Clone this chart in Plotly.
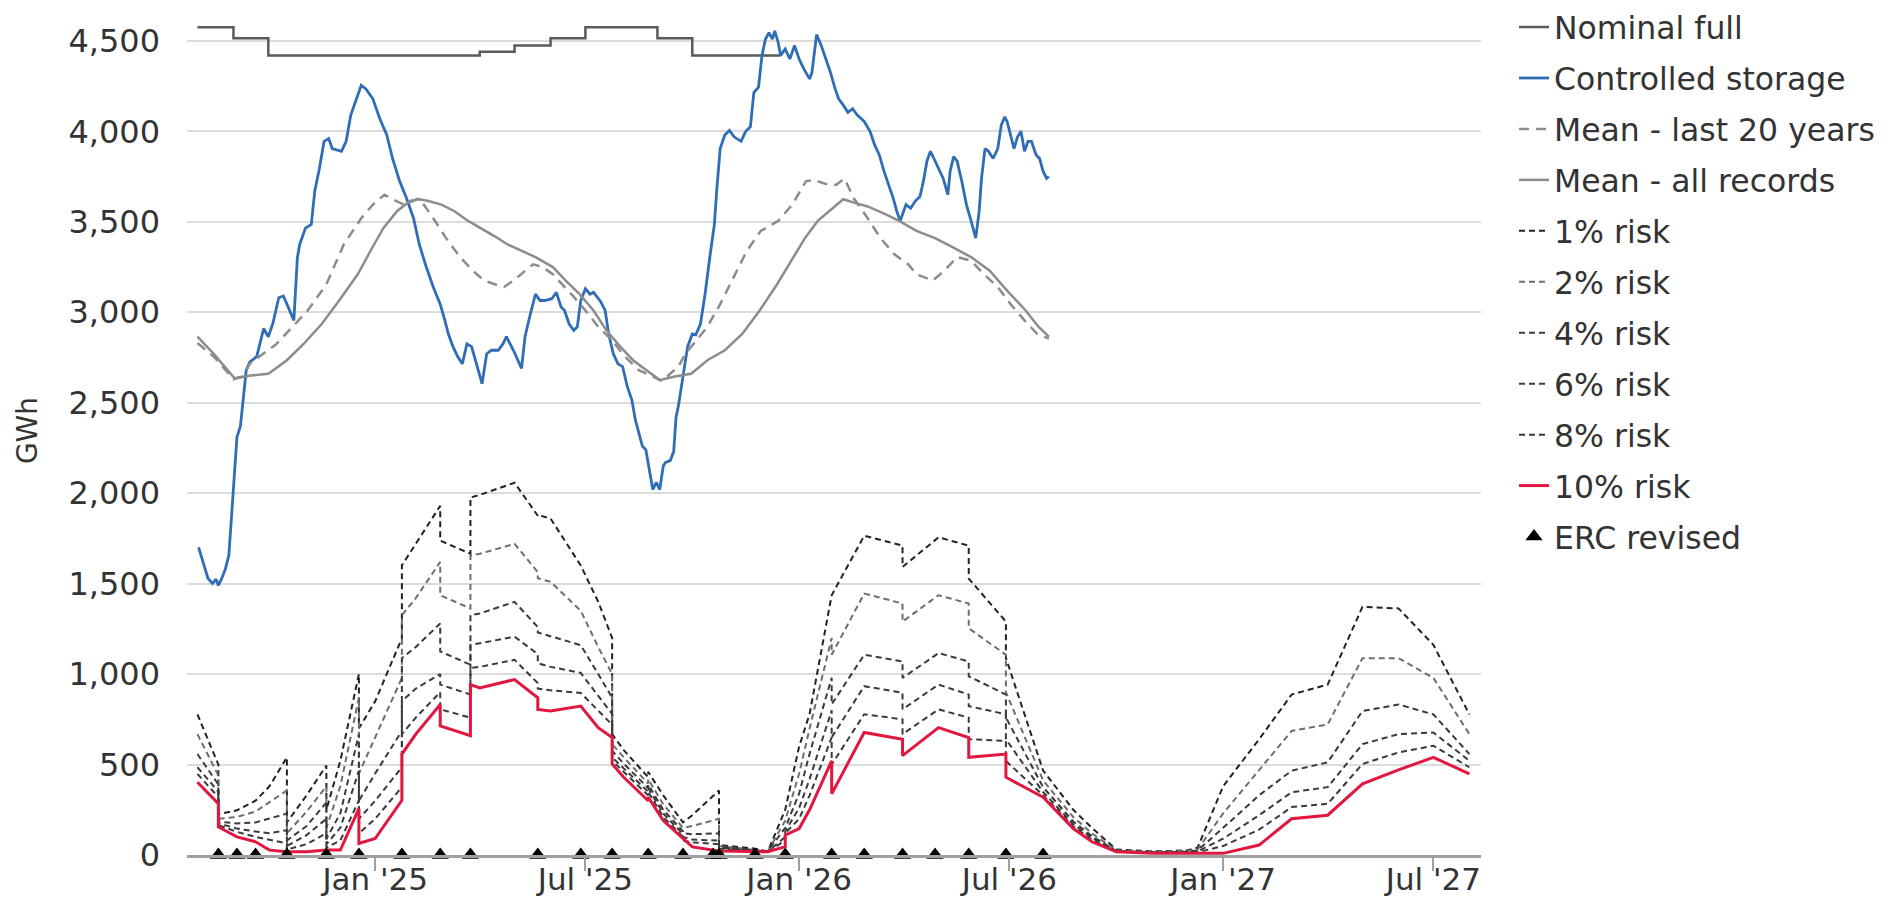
import plotly.graph_objects as go

# ---- data (GWh) ----

nominal_dates = ["2024-08-01", "2024-09-01", "2024-10-01", "2025-04-01", "2025-05-01",
                 "2025-06-01", "2025-07-01", "2025-09-01", "2025-10-01", "2025-12-16"]
nominal_gwh = [4575, 4515, 4420, 4440, 4475, 4515, 4575, 4515, 4420, 4420]

storage_dates = [
    "2024-08-02", "2024-08-06", "2024-08-10", "2024-08-14", "2024-08-17", "2024-08-19",
    "2024-08-22", "2024-08-25", "2024-08-28", "2024-08-30", "2024-09-02", "2024-09-04",
    "2024-09-07", "2024-09-10", "2024-09-12", "2024-09-15", "2024-09-21", "2024-09-27",
    "2024-10-01", "2024-10-05", "2024-10-10", "2024-10-14", "2024-10-19", "2024-10-23",
    "2024-10-26", "2024-10-28", "2024-11-02", "2024-11-07", "2024-11-10", "2024-11-14",
    "2024-11-18", "2024-11-22", "2024-11-25", "2024-12-03", "2024-12-07", "2024-12-11",
    "2024-12-17", "2024-12-20", "2024-12-24", "2024-12-30", "2025-01-05", "2025-01-11",
    "2025-01-16", "2025-01-22", "2025-01-28", "2025-02-03", "2025-02-08", "2025-02-14",
    "2025-02-20", "2025-02-26", "2025-03-02", "2025-03-05", "2025-03-09", "2025-03-13",
    "2025-03-17", "2025-03-21", "2025-03-25", "2025-03-29", "2025-04-03", "2025-04-07",
    "2025-04-11", "2025-04-17", "2025-04-21", "2025-04-24", "2025-04-30", "2025-05-07",
    "2025-05-10", "2025-05-14", "2025-05-19", "2025-05-23", "2025-05-27", "2025-06-02",
    "2025-06-06", "2025-06-10", "2025-06-13", "2025-06-17", "2025-06-21", "2025-06-24",
    "2025-06-27", "2025-07-01", "2025-07-05", "2025-07-08", "2025-07-14", "2025-07-18",
    "2025-07-21", "2025-07-25", "2025-07-29", "2025-08-02", "2025-08-06", "2025-08-10",
    "2025-08-13", "2025-08-19", "2025-08-22", "2025-08-28", "2025-08-31", "2025-09-03",
    "2025-09-06", "2025-09-08", "2025-09-12", "2025-09-15", "2025-09-17", "2025-09-19",
    "2025-09-23", "2025-09-27", "2025-10-01", "2025-10-04", "2025-10-08", "2025-10-12",
    "2025-10-16", "2025-10-20", "2025-10-22", "2025-10-25", "2025-10-29", "2025-11-02",
    "2025-11-06", "2025-11-12", "2025-11-16", "2025-11-20", "2025-11-23", "2025-11-27",
    "2025-11-30", "2025-12-03", "2025-12-06", "2025-12-09", "2025-12-11", "2025-12-14",
    "2025-12-16", "2025-12-20", "2025-12-24", "2025-12-28", "2026-01-01", "2026-01-05",
    "2026-01-10", "2026-01-12", "2026-01-16", "2026-01-20", "2026-01-24", "2026-01-28",
    "2026-02-01", "2026-02-04", "2026-02-08", "2026-02-12", "2026-02-16", "2026-02-20",
    "2026-02-26", "2026-03-03", "2026-03-07", "2026-03-11", "2026-03-15", "2026-03-19",
    "2026-03-23", "2026-03-26", "2026-03-29", "2026-04-01", "2026-04-03", "2026-04-07",
    "2026-04-11", "2026-04-15", "2026-04-18", "2026-04-21", "2026-04-24", "2026-04-27",
    "2026-05-01", "2026-05-05", "2026-05-09", "2026-05-11", "2026-05-14", "2026-05-17",
    "2026-05-21", "2026-05-25", "2026-05-29", "2026-06-02", "2026-06-05", "2026-06-07",
    "2026-06-10", "2026-06-13", "2026-06-17", "2026-06-21", "2026-06-24", "2026-06-27",
    "2026-06-29", "2026-07-02", "2026-07-05", "2026-07-08", "2026-07-11", "2026-07-14",
    "2026-07-17", "2026-07-20", "2026-07-24", "2026-07-27", "2026-07-30", "2026-08-02",
    "2026-08-04",
]
storage_gwh = [
    1700, 1620, 1530, 1500, 1525, 1490,
    1530, 1580, 1655, 1840, 2130, 2310,
    2370, 2570, 2680, 2725, 2755, 2910,
    2865, 2940, 3080, 3090, 3010, 2955,
    3300, 3375, 3465, 3485, 3670, 3795,
    3945, 3960, 3905, 3890, 3945, 4090,
    4200, 4255, 4235, 4180, 4070, 3980,
    3850, 3725, 3630, 3520, 3375, 3250,
    3140, 3045, 2955, 2880, 2810, 2755,
    2715, 2825, 2810, 2715, 2605, 2770,
    2790, 2790, 2825, 2865, 2790, 2690,
    2865, 2975, 3100, 3065, 3065, 3075,
    3110, 3030, 3010, 2935, 2900, 2920,
    3065, 3130, 3100, 3110, 3060, 3010,
    2880, 2770, 2715, 2700, 2590, 2515,
    2405, 2260, 2240, 2020, 2060, 2020,
    2150, 2170, 2180, 2230, 2420, 2480,
    2650, 2810, 2880, 2875, 2935, 3100,
    3300, 3485, 3670, 3905, 3980, 4005,
    3970, 3945, 4000, 4025, 4215, 4245,
    4420, 4510, 4545, 4510, 4555, 4490,
    4420, 4455, 4400, 4475, 4400, 4345,
    4290, 4325, 4535, 4475, 4400, 4325,
    4235, 4180, 4145, 4105, 4125, 4090,
    4055, 4000, 3925, 3870, 3780, 3705,
    3630, 3560, 3505, 3560, 3595, 3575,
    3615, 3640, 3725, 3835, 3890, 3850,
    3795, 3740, 3650, 3780, 3860, 3835,
    3725, 3595, 3505, 3410, 3560, 3740,
    3905, 3890, 3850, 3905, 4035, 4080,
    4055, 3980, 3905, 3970, 4000, 3890,
    3945, 3945, 3870, 3850, 3780, 3740,
    3750,
]

mean20_dates = [
    "2024-08-01", "2024-08-15", "2024-09-01", "2024-09-09", "2024-09-15", "2024-10-08",
    "2024-11-04", "2024-11-20", "2024-12-05", "2024-12-20", "2024-12-30", "2025-01-09",
    "2025-01-16", "2025-01-26", "2025-02-08", "2025-02-20", "2025-03-03", "2025-03-15",
    "2025-03-26", "2025-04-05", "2025-04-14", "2025-04-22", "2025-04-30", "2025-05-10",
    "2025-05-17", "2025-05-25", "2025-06-03", "2025-06-13", "2025-06-21", "2025-07-01",
    "2025-07-12", "2025-07-24", "2025-08-04", "2025-08-16", "2025-08-27", "2025-09-05",
    "2025-09-19", "2025-09-25", "2025-10-02", "2025-10-14", "2025-10-25", "2025-11-06",
    "2025-11-17", "2025-11-29", "2025-12-14", "2025-12-26", "2026-01-07", "2026-01-14",
    "2026-01-26", "2026-02-02", "2026-02-09", "2026-02-17", "2026-03-01", "2026-03-12",
    "2026-03-24", "2026-04-05", "2026-04-12", "2026-04-26", "2026-05-06", "2026-05-17",
    "2026-05-29", "2026-06-09", "2026-06-21", "2026-07-02", "2026-07-14", "2026-07-25",
    "2026-08-04",
]
mean20_gwh = [
    2830, 2755, 2630, 2645, 2715, 2825,
    3010, 3155, 3375, 3520, 3595, 3650,
    3625, 3595, 3630, 3520, 3410, 3305,
    3230, 3175, 3155, 3140, 3175, 3230,
    3265, 3250, 3210, 3140, 3085, 3010,
    2920, 2845, 2755, 2680, 2645, 2620,
    2700, 2770, 2825, 2920, 3045, 3195,
    3340, 3450, 3505, 3595, 3725, 3730,
    3705, 3705, 3740, 3630, 3520, 3410,
    3320, 3265, 3210, 3175, 3230, 3305,
    3285, 3210, 3140, 3045, 2955, 2880,
    2855,
]

mean_all_dates = [
    "2024-08-01", "2024-08-15", "2024-09-02", "2024-09-16", "2024-10-01", "2024-10-17",
    "2024-11-01", "2024-11-16", "2024-12-01", "2024-12-17", "2024-12-28", "2025-01-08",
    "2025-01-20", "2025-01-31", "2025-02-08", "2025-02-16", "2025-02-27", "2025-03-10",
    "2025-03-22", "2025-04-02", "2025-04-14", "2025-04-25", "2025-05-07", "2025-05-19",
    "2025-06-03", "2025-06-14", "2025-06-26", "2025-07-08", "2025-07-19", "2025-07-31",
    "2025-08-11", "2025-08-23", "2025-09-03", "2025-09-16", "2025-09-30", "2025-10-14",
    "2025-10-29", "2025-11-13", "2025-11-28", "2025-12-13", "2025-12-25", "2026-01-06",
    "2026-01-17", "2026-01-29", "2026-02-08", "2026-02-18", "2026-03-01", "2026-03-17",
    "2026-03-28", "2026-04-12", "2026-04-28", "2026-05-13", "2026-05-29", "2026-06-14",
    "2026-06-29", "2026-07-15", "2026-07-26", "2026-08-04",
]
mean_all_gwh = [
    2865, 2770, 2635, 2650, 2660, 2735,
    2830, 2935, 3065, 3210, 3340, 3465,
    3560, 3615, 3625, 3615, 3595, 3560,
    3505, 3465, 3420, 3375, 3340, 3305,
    3250, 3175, 3100, 3010, 2900, 2810,
    2735, 2680, 2625, 2645, 2660, 2735,
    2790, 2880, 3010, 3155, 3285, 3410,
    3505, 3570, 3625, 3605, 3585, 3540,
    3505, 3450, 3410, 3360, 3305, 3230,
    3120, 3010, 2920, 2865,
]

# risk curves: a date repeated twice marks the jump at an ERC revision
risk_dates = [
    "2024-08-01", "2024-08-19", "2024-08-19", "2024-09-04", "2024-09-20", "2024-10-02",
    "2024-10-17", "2024-10-17", "2024-11-03", "2024-11-20", "2024-11-20", "2024-12-02",
    "2024-12-18", "2024-12-18", "2025-01-01", "2025-01-24", "2025-01-24", "2025-02-05",
    "2025-02-26", "2025-02-26", "2025-03-24", "2025-03-24", "2025-04-01", "2025-05-01",
    "2025-05-21", "2025-05-21", "2025-06-01", "2025-06-27", "2025-07-12", "2025-07-24",
    "2025-07-24", "2025-08-03", "2025-08-24", "2025-08-24", "2025-09-06", "2025-09-23",
    "2025-09-23", "2025-10-01", "2025-10-24", "2025-10-24", "2025-11-24", "2025-12-05",
    "2025-12-20", "2025-12-20", "2026-01-01", "2026-01-10", "2026-01-29", "2026-01-29",
    "2026-02-26", "2026-03-31", "2026-03-31", "2026-05-01", "2026-05-27", "2026-05-27",
    "2026-06-28", "2026-06-28", "2026-07-30", "2026-08-25", "2026-09-10", "2026-10-01",
    "2026-11-01", "2026-12-01", "2026-12-10", "2027-01-01", "2027-02-01", "2027-03-01",
    "2027-04-01", "2027-05-01", "2027-06-01", "2027-07-01", "2027-08-01",
]
risk_1 = [
    777, 500, 225, 247, 300, 380,
    540, 180, 330, 495, 250, 520,
    1001, 700, 850, 1198, 1601, 1720,
    1930, 1738, 1665, 1976, 1990, 2058,
    1875, 1880, 1860, 1600, 1400, 1200,
    668, 580, 430, 460, 330, 180,
    180, 220, 357, 55, 35, 20,
    250, 250, 600, 780, 1436, 1436,
    1765, 1710, 1592, 1756, 1710, 1528,
    1290, 1089, 467, 250, 150, 30,
    20, 25, 40, 380, 640, 887,
    942, 1372, 1363, 1162, 777,
]
risk_2 = [
    668, 440, 200, 210, 240, 290,
    357, 120, 240, 380, 150, 380,
    870, 450, 650, 979, 1326, 1420,
    1620, 1436, 1363, 1656, 1665, 1720,
    1564, 1530, 1510, 1350, 1150, 1000,
    613, 540, 395, 420, 280, 150,
    150, 160, 200, 50, 30, 20,
    190, 190, 450, 700, 1200, 1107,
    1445, 1390, 1290, 1436, 1390, 1253,
    1107, 900, 412, 210, 120, 25,
    18, 22, 30, 230, 470, 686,
    722, 1088, 1088, 979, 668,
]
risk_4 = [
    558, 390, 185, 174, 180, 200,
    229, 80, 160, 290, 90, 230,
    668, 300, 450, 686, 1088, 1150,
    1280, 1125, 1052, 1326, 1335, 1399,
    1260, 1230, 1210, 1160, 1000, 870,
    576, 505, 370, 390, 250, 130,
    120, 115, 120, 45, 28, 20,
    150, 150, 340, 560, 980, 833,
    1107, 1070, 979, 1116, 1070, 988,
    887, 760, 375, 185, 105, 22,
    15, 18, 25, 150, 330, 466,
    512, 796, 832, 777, 558,
]
risk_6 = [
    485, 350, 175, 146, 130, 120,
    137, 50, 110, 200, 60, 150,
    466, 200, 300, 485, 850, 920,
    1000, 942, 887, 1162, 1170, 1207,
    1110, 1060, 1040, 1006, 880, 780,
    540, 480, 350, 370, 230, 115,
    100, 85, 80, 40, 25, 18,
    100, 130, 260, 420, 800, 650,
    933, 897, 805, 942, 887, 823,
    778, 640, 348, 170, 95, 20,
    13, 15, 20, 90, 220, 347,
    375, 613, 668, 677, 521,
]
risk_8 = [
    448, 320, 165, 128, 100, 85,
    64, 30, 60, 120, 40, 80,
    302, 120, 200, 375, 668, 760,
    900, 805, 759, 1034, 1040, 1079,
    950, 920, 910, 896, 800, 720,
    521, 460, 330, 350, 210, 100,
    80, 70, 60, 35, 22, 18,
    80, 120, 200, 330, 650, 500,
    778, 750, 668, 805, 759, 640,
    631, 520, 330, 158, 85, 19,
    12, 12, 15, 50, 140, 265,
    283, 503, 567, 604, 485,
]
risk_10 = [
    402, 284, 155, 100, 73, 27,
    18, 18, 18, 27, 27, 27,
    256, 64, 91, 302, 558, 668,
    832, 714, 659, 942, 924, 970,
    869, 805, 796, 823, 704, 649,
    503, 430, 300, 320, 190, 90,
    90, 45, 22, 22, 18, 18,
    46, 110, 146, 250, 521, 338,
    677, 640, 549, 704, 649, 540,
    558, 430, 320, 146, 73, 18,
    9, 9, 9, 9, 55, 200,
    220, 393, 470, 540, 448,
]

erc_dates = [
    "2024-08-19", "2024-09-04", "2024-09-20", "2024-10-17", "2024-11-20", "2024-12-18",
    "2025-01-24", "2025-02-26", "2025-03-24", "2025-05-21", "2025-06-27", "2025-07-24",
    "2025-08-24", "2025-09-23", "2025-10-19", "2025-10-24", "2025-11-24", "2025-12-20",
    "2026-01-29", "2026-02-26", "2026-03-31", "2026-04-28", "2026-05-27", "2026-06-28",
    "2026-07-30",
]

tick_dates = ["2025-01-01", "2025-07-01", "2026-01-01", "2026-07-01", "2027-01-01", "2027-07-01"]
tick_text = ["Jan '25", "Jul '25", "Jan '26", "Jul '26", "Jan '27", "Jul '27"]

# ---- figure ----
fig = go.Figure()

def add_line(name, x, y, color, width, dash="solid", shape="linear"):
    fig.add_trace(go.Scatter(
        x=x, y=y, name=name, mode="lines", legendgroup=name,
        line=dict(color=color, width=width, dash=dash, shape=shape),
    ))

add_line("Nominal full", nominal_dates, nominal_gwh, "#5a5a5a", 2.5, shape="hv")
add_line("Controlled storage", storage_dates, storage_gwh, "#2f6db4", 2.8)
add_line("Mean - last 20 years", mean20_dates, mean20_gwh, "#8c8c8c", 2.5, dash="10px,7px")
add_line("Mean - all records", mean_all_dates, mean_all_gwh, "#8c8c8c", 2.5)
add_line("1% risk", risk_dates, risk_1, "#222222", 2, dash="6px,4px")
add_line("2% risk", risk_dates, risk_2, "#6e6e6e", 2, dash="6px,4px")
add_line("4% risk", risk_dates, risk_4, "#3a3a3a", 2, dash="6px,4px")
add_line("6% risk", risk_dates, risk_6, "#3a3a3a", 2, dash="6px,4px")
add_line("8% risk", risk_dates, risk_8, "#3a3a3a", 2, dash="6px,4px")
add_line("10% risk", risk_dates, risk_10, "#e2173f", 3)

fig.add_trace(go.Scatter(
    x=erc_dates, y=[0] * len(erc_dates), name="ERC revised", mode="markers",
    legendgroup="ERC revised", cliponaxis=False,
    marker=dict(symbol="triangle-up", size=15, color="black"),
))

fig.update_layout(
    width=1892, height=901,
    margin=dict(l=187, r=411, t=0, b=46),
    plot_bgcolor="white", paper_bgcolor="white",
    font=dict(family="DejaVu Sans", size=31, color="#333333"),
    showlegend=True,
    legend=dict(
        x=1.0255, xanchor="left", y=1.007, yanchor="top",
        maxheight=860,
        traceorder="grouped", tracegroupgap=7,
        font=dict(size=31.5, color="#333333"),
        itemwidth=30, bgcolor="rgba(0,0,0,0)",
    ),
)

fig.update_xaxes(
    range=["2024-07-23", "2027-08-11"],
    tickvals=tick_dates, ticktext=tick_text,
    showgrid=False, zeroline=False, automargin=False,
    showline=True, linecolor="#a0a0a0", linewidth=3,
    ticks="outside", ticklen=13, tickwidth=2, tickcolor="#a0a0a0",
    ticklabelstandoff=-18,
    tickfont=dict(size=31, color="#333333"),
)
fig.update_yaxes(
    range=[0, 4693], dtick=500, tickformat=",",
    showgrid=True, gridcolor="#dcdcdc", gridwidth=2,
    zeroline=False, showline=False, automargin=False,
    ticklabelstandoff=26,
    tickfont=dict(size=32, color="#333333"),
    title=dict(text="GWh", font=dict(size=28, color="#333333"), standoff=22),
)

fig.write_html(
    "out.html",
    config={"displayModeBar": False},
    post_script="document.body.style.margin='0px';document.body.style.overflow='hidden';",
)
